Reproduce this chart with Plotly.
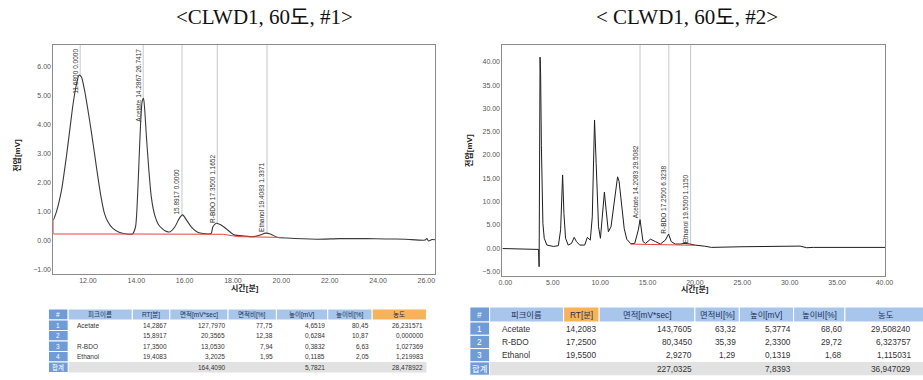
import numpy as np
import plotly.graph_objects as go

W, H = 923, 380

# ---------------- chromatogram #1 (time [min], signal [mV]) ----------------
t1 = [10.57, 10.70, 10.91, 11.11, 11.25, 11.39, 11.52, 11.63, 11.73, 11.86,
      12.00, 12.13, 12.27, 12.41, 12.54, 12.68, 12.82, 13.02, 13.29, 13.60,
      13.84, 13.97, 14.04, 14.11, 14.18, 14.24, 14.30, 14.35, 14.42, 14.52,
      14.62, 14.76, 14.93, 15.20, 15.40, 15.60, 15.78, 15.92, 16.08, 16.29,
      16.56, 16.97, 17.10, 17.17, 17.31, 17.51, 17.78, 18.05, 18.46, 18.87,
      19.14, 19.35, 19.55, 19.82, 20.23, 21.46, 22.41, 23.50, 24.31, 25.13,
      25.95, 26.02, 26.09, 26.23, 26.36]
v1 = [0.72, 1.01, 1.76, 2.91, 3.83, 4.75, 5.38, 5.72, 5.66, 5.20,
      4.52, 3.83, 3.03, 2.22, 1.53, 0.96, 0.67, 0.44, 0.30, 0.24,
      0.24, 0.49, 1.30, 2.69, 4.06, 4.80, 4.92, 4.52, 3.60, 2.45,
      1.53, 0.90, 0.55, 0.34, 0.32, 0.49, 0.78, 0.90, 0.72, 0.47,
      0.29, 0.24, 0.26, 0.49, 0.61, 0.55, 0.38, 0.21, 0.17, 0.15,
      0.21, 0.27, 0.24, 0.13, 0.10, 0.06, 0.08, 0.08, 0.07, 0.06,
      0.03, 0.08, 0.00, 0.05, 0.04]
base1_t = [10.57, 10.57, 13.90, 17.60, 18.20, 20.10]
base1_v = [0.75, 0.24, 0.24, 0.23, 0.15, 0.12]
lab1_rt = [11.68, 14.2867, 15.8917, 17.35, 19.4083]
lab1_txt = ["11.6800 0.0000", "Acetate 14.2867 26.7417", "15.8917 0.0000",
            "R-BDO 17.3500 1.1652", "Ethanol 19.4083 1.3371"]

# ---------------- chromatogram #2 ----------------
t2 = [-0.31, 1.50, 3.00, 3.50, 3.56, 3.66, 3.72, 3.80, 3.89, 3.96,
      4.10, 4.38, 5.07, 5.59, 5.83, 6.04, 6.18, 6.35, 6.63, 6.98,
      7.26, 7.50, 7.85, 8.37, 8.65, 8.96, 9.17, 9.41, 9.58, 9.83,
      10.03, 10.21, 10.45, 10.63, 10.87, 11.15, 11.49, 11.84, 12.00, 12.26,
      12.54, 12.81, 13.23, 13.65, 14.03, 14.21, 14.38, 14.52, 14.79, 15.31,
      15.83, 16.35, 16.88, 17.22, 17.50, 17.92, 18.44, 18.96, 19.48, 20.00,
      21.04, 21.74, 24.86, 31.10, 31.80, 32.50, 40.10]
v2 = [-0.10, -0.15, -0.25, -0.30, -4.00, 41.00, 37.50, 22.00, 14.60, 5.30,
      2.10, 0.64, 0.35, 0.50, 3.90, 15.70, 7.40, 2.10, 0.64, 1.00,
      2.30, 1.40, 0.64, 0.64, 2.30, 1.70, 6.70, 27.50, 18.20, 4.60,
      2.10, 6.00, 12.00, 8.20, 3.50, 4.60, 10.30, 15.30, 14.30, 8.90,
      4.20, 1.90, 0.93, 1.00, 3.90, 6.10, 3.90, 1.40, 1.00, 1.90,
      1.40, 0.86, 1.70, 3.00, 1.40, 0.86, 0.86, 1.00, 0.86, 0.64,
      0.40, 0.14, 0.28, 0.42, 0.07, 0.14, 0.14]
base2_t = [13.20, 20.00]
base2_v = [0.85, 0.60]
lab2_rt = [14.2083, 17.25, 19.55]
lab2_txt = ["Acetate 14.2083 29.5082", "R-BDO 17.2500 6.3238", "Ethanol 19.5500 1.1150"]

# ---------------- tick values ----------------
x1_ticks = [12, 14, 16, 18, 20, 22, 24, 26]
y1_ticks = [-1, 0, 1, 2, 3, 4, 5, 6]
x2_ticks = [0, 5, 10, 15, 20, 25, 30, 35, 40]
y2_ticks = [-5, 0, 5, 10, 15, 20, 25, 30, 35, 40]

# ---------------- tables ----------------
headers = ["#", "피크이름", "RT[분]", "면적[mV*sec]", "면적비[%]", "높이[mV]", "높이비[%]", "농도"]
names1 = ["Acetate", "", "R-BDO", "Ethanol"]
rt1 = [14.2867, 15.8917, 17.3500, 19.4083]
area1 = [127.7970, 20.3565, 13.0530, 3.2025]
area_pct1 = [77.75, 12.38, 7.94, 1.95]
height1 = [4.6519, 0.6284, 0.3832, 0.1185]
height_pct1 = [80.45, 10.87, 6.63, 2.05]
conc1 = [26.231571, 0.000000, 1.027369, 1.219983]
total1 = [164.4090, 5.7821, 28.478922]

names2 = ["Acetate", "R-BDO", "Ethanol"]
rt2 = [14.2083, 17.2500, 19.5500]
area2 = [143.7605, 80.3450, 2.9270]
area_pct2 = [63.32, 35.39, 1.29]
height2 = [5.3774, 2.3300, 0.1319]
height_pct2 = [68.60, 29.72, 1.68]
conc2 = [29.508240, 6.323757, 1.115031]
total2 = [227.0325, 7.8393, 36.947029]

# ======================================================================
SANS = "Liberation Sans, Arial, 'Noto Sans CJK KR', sans-serif"
KSANS = "Liberation Sans, 'Noto Sans CJK KR', sans-serif"
SERIF = "Liberation Serif, 'Times New Roman', 'Noto Sans CJK KR', serif"

shapes, annotations = [], []


def fmt(v, d):
    return f"{v:.{d}f}".replace(".", ",")


def add_rect(x0, y0, x1, y1, fill, line=None):
    shapes.append(dict(type="rect", xref="paper", yref="paper",
                       x0=x0 / W, x1=x1 / W, y0=1 - y1 / H, y1=1 - y0 / H,
                       fillcolor=fill, layer="below",
                       line=dict(width=1 if line else 0, color=line or fill)))


def add_text(px, py, s, size, color, anchor, family=KSANS, angle=0):
    annotations.append(dict(xref="paper", yref="paper", x=px / W, y=1 - py / H,
                            text=s, showarrow=False, xanchor=anchor, yanchor="middle",
                            textangle=angle, borderpad=0,
                            font=dict(size=size, color=color, family=family)))


def draw_table(edges, top, hh, rh, body, total, head_fill, size, pad):
    for i, h in enumerate(headers):
        add_rect(edges[i], top, edges[i + 1], top + hh, head_fill[i], "white")
        add_text((edges[i] + edges[i + 1]) / 2, top + hh / 2, h, size,
                 "white" if i == 0 else "#1c2f55", "center")
    rows = body + [total]
    for r, row in enumerate(rows):
        y0 = top + hh + r * rh
        if r == len(rows) - 1:
            add_rect(edges[1], y0, edges[-1], y0 + rh, "#e2e2e2")
        add_rect(edges[0], y0, edges[1], y0 + rh, "#6f9bd6", "white")
        for c, s in enumerate(row):
            if s == "":
                continue
            yc = y0 + rh / 2
            if c == 0:
                add_text((edges[0] + edges[1]) / 2, yc, s, size, "white", "center")
            elif c == 1:
                add_text(edges[1] + pad, yc, s, size, "#333333", "left")
            else:
                add_text(min(edges[c + 1], W - 1) - 2, yc, s, size, "#333333", "right")


BLUE_H, ORANGE_H, NUM_B = "#a8c6ec", "#f7b35a", "#6f9bd6"

body1 = [[str(i + 1), names1[i], fmt(rt1[i], 4), fmt(area1[i], 4), fmt(area_pct1[i], 2),
          fmt(height1[i], 4), fmt(height_pct1[i], 2), fmt(conc1[i], 6)] for i in range(len(rt1))]
tot1 = ["합계", "", "", fmt(total1[0], 4), "", fmt(total1[1], 4), "", fmt(total1[2], 6)]
draw_table([45, 65, 130, 168, 227, 276, 328, 373, 428], 309, 11, 10.5, body1, tot1,
           [NUM_B, BLUE_H, BLUE_H, BLUE_H, BLUE_H, BLUE_H, BLUE_H, ORANGE_H], 6.5, 8)

body2 = [[str(i + 1), names2[i], fmt(rt2[i], 4), fmt(area2[i], 4), fmt(area_pct2[i], 2),
          fmt(height2[i], 4), fmt(height_pct2[i], 2), fmt(conc2[i], 6)] for i in range(len(rt2))]
tot2 = ["합계", "", "", fmt(total2[0], 4), "", fmt(total2[1], 4), "", fmt(total2[2], 6)]
draw_table([472, 492, 567, 603, 700, 745, 800, 852, 935], 307, 15, 13.3, body2, tot2,
           [NUM_B, BLUE_H, ORANGE_H, BLUE_H, BLUE_H, BLUE_H, BLUE_H, BLUE_H], 8.3, 12)

# ---------------- figure ----------------
fig = go.Figure()
fig.add_trace(go.Scatter(x=t1, y=v1, mode="lines", xaxis="x", yaxis="y", hoverinfo="skip",
                         line=dict(color="#3a3a3a", width=1.1, shape="spline", smoothing=0.6)))
fig.add_trace(go.Scatter(x=base1_t, y=base1_v, mode="lines", xaxis="x", yaxis="y",
                         hoverinfo="skip", line=dict(color="#e6463c", width=1)))
fig.add_trace(go.Scatter(x=t2, y=v2, mode="lines", xaxis="x2", yaxis="y2", hoverinfo="skip",
                         line=dict(color="#1e1e1e", width=1)))
fig.add_trace(go.Scatter(x=base2_t, y=base2_v, mode="lines", xaxis="x2", yaxis="y2",
                         hoverinfo="skip", line=dict(color="#e6463c", width=1)))

ax_common = dict(showline=True, linecolor="#8a8a8a", linewidth=1, mirror=True,
                 showgrid=False, zeroline=False, ticks="", tickformat=".2f",
                 tickmode="array", tickfont=dict(size=7, color="#555555", family=SANS))

dom = {
    "x": [50 / W, 437 / W], "y": [1 - 274 / H, 1 - 45 / H],
    "x2": [505 / W, 893 / W], "y2": [1 - 276 / H, 1 - 45 / H],
}
rng = {"x": [10.57, 26.37], "y": [-1.14, 6.76], "x2": [-0.31, 40.1], "y2": [-6.0, 43.6]}

fig.update_layout(
    xaxis=dict(ax_common, domain=dom["x"], range=rng["x"], tickvals=x1_ticks, anchor="y"),
    yaxis=dict(ax_common, domain=dom["y"], range=rng["y"], tickvals=y1_ticks, anchor="x"),
    xaxis2=dict(ax_common, domain=dom["x2"], range=rng["x2"], tickvals=x2_ticks, anchor="y2"),
    yaxis2=dict(ax_common, domain=dom["y2"], range=rng["y2"], tickvals=y2_ticks, anchor="x2"),
)


def peak_marks(ts, vs, rts, txts, xr, yr):
    ydom = dom[yr]
    px_per_unit = (ydom[1] - ydom[0]) * H / (rng[yr][1] - rng[yr][0])
    ytop = rng[yr][1]
    for rt, txt in zip(rts, txts):
        pv = float(np.interp(rt, ts, vs))
        shapes.append(dict(type="line", xref=xr, yref=yr, x0=rt, x1=rt, y0=pv, y1=ytop,
                           layer="below", line=dict(color="#c8c8c8", width=1)))
        est_len = len(txt) * 0.5 * 6.5 + 4
        if pv + est_len / px_per_unit > ytop - 3 / px_per_unit:
            y, ya = ytop - 3 / px_per_unit, "top"
        else:
            y, ya = pv, "bottom"
        annotations.append(dict(xref=xr, yref=yr, x=rt, y=y, text=txt, showarrow=False,
                                textangle=-90, xanchor="right", yanchor=ya, borderpad=0,
                                xshift=-0.5, font=dict(size=6.5, color="#333333", family=SANS)))


peak_marks(t1, v1, lab1_rt, lab1_txt, "x", "y")
peak_marks(t2, v2, lab2_rt, lab2_txt, "x2", "y2")

# titles and axis titles
add_text(264, 17, "&lt;CLWD1, 60도, #1&gt;", 21, "#111111", "center", SERIF)
add_text(692, 17, "&lt; CLWD1, 60도, #2&gt;", 21, "#111111", "center", SERIF)
add_text(13, 155, "<b>전압[mV]</b>", 8, "#222222", "center", KSANS, -90)
add_text(471, 150, "<b>전압[mV]</b>", 8, "#222222", "center", KSANS, -90)
add_text(244, 288, "<b>시간[분]</b>", 8, "#222222", "center", KSANS)
add_text(700, 289, "<b>시간[분]</b>", 8, "#222222", "center", KSANS)

fig.update_layout(width=W, height=H, margin=dict(l=0, r=0, t=0, b=0),
                  paper_bgcolor="white", plot_bgcolor="white", showlegend=False,
                  shapes=shapes, annotations=annotations)

fig.write_html("out.html", config={"displayModeBar": False},
               post_script="document.body.style.margin='0';document.body.style.padding='0';")
